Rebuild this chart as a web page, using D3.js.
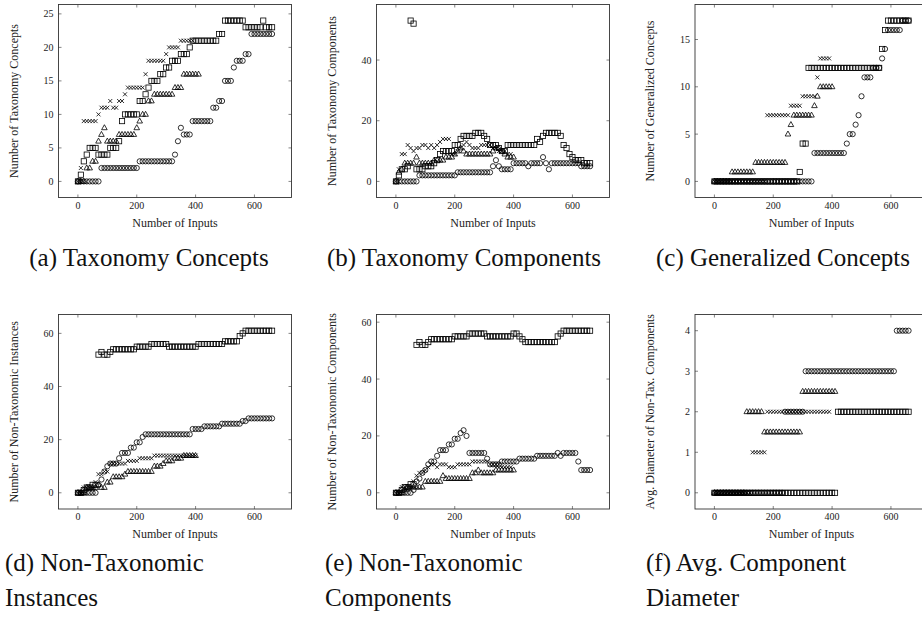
<!DOCTYPE html>
<html>
<head>
<meta charset="utf-8">
<script src="https://cdn.jsdelivr.net/npm/d3@7"></script>
<style>
  body { margin: 0; background: #fff; }
  svg { display: block; }
</style>
</head>
<body>
<div id="chart"></div>
<script>
// x values shared by every series (number of inputs)
const inputs = [0,10,20,30,40,50,60,70,80,90,100,110,120,130,140,150,160,170,180,190,
  200,210,220,230,240,250,260,270,280,290,300,310,320,330,340,350,360,370,380,390,
  400,410,420,430,440,450,460,470,480,490,500,510,520,530,540,550,560,570,580,590,
  600,610,620,630,640,650,660];

// (a) Taxonomy Concepts
const aSquares   = [0,1,3,4,5,5,5,4,4,4, 4,5,5,5,6,9,10,10,10,10, 10,12,12,13,14,15,15,15,16,16, 17,17,18,18,18,19,19,19,20,21, 21,21,21,21,21,21,21,21,22,22, 24,24,24,24,24,24,24,23,23,23, 23,23,23,24,23,23,23];
const aCrosses   = [0,2,9,9,9,9,9,10,11,11, 11,12,11,11,12,12,13,14,14,14, 14,14,14,16,18,18,18,18,18,18, 19,20,20,20,20,21,21,21,21,21];
const aTriangles = [0,0,0,2,2,3,3,6,7,8, 6,6,6,6,7,7,7,7,7,7, 8,9,10,10,12,12,13,13,13,13, 13,13,13,14,14,14,16,16,16,16, 16,16];
const aCircles   = [0,0,0,0,0,0,0,0,2,2, 2,2,2,2,2,2,2,2,2,2, 2,3,3,3,3,3,3,3,3,3, 3,3,3,4,6,8,7,7,7,9, 9,9,9,9,9,9,11,11,12,12, 15,15,15,17,18,18,18,19,19,22, 22,22,22,22,22,22,22];

// (b) Taxonomy Components
const bSquares   = [0,2,4,4,5,53,52,4,4,4, 5,5,5,6,7,9,10,10,10,10, 12,12,14,15,15,15,15,16,16,16, 15,14,12,12,12,11,10,10,12,12, 12,12,12,12,12,12,12,12,14,13, 15,16,16,16,16,16,15,12,11,9, 8,7,7,7,6,6,6];
const bCrosses   = [0,4,9,9,12,11,10,11,11,12, 12,11,12,11,12,13,14,14,14,9, 9,10,11,12,13,12,11,11,11,12, 12,12,12,11,11,10,10,10,9,9];
const bTriangles = [0,3,4,6,6,6,6,8,6,6, 6,6,6,7,7,7,7,8,8,8, 9,10,11,10,9,9,9,9,9,9, 9,9,9,10,11,11,10,9,8,8, 8];
const bCircles   = [0,0,0,0,0,0,0,0,2,2, 2,2,2,2,2,2,2,2,2,2, 2,3,3,3,3,3,3,3,3,3, 3,3,3,5,7,5,4,4,4,4, 6,6,6,6,6,5,6,6,6,6, 8,6,4,6,6,6,6,6,6,6, 6,6,6,5,5,5,5];

// (c) Generalized Concepts
const cSquares   = [0,0,0,0,0,0,0,0,0,0, 0,0,0,0,0,0,0,0,0,0, 0,0,0,0,0,0,0,0,0,1, 4,4,12,12,12,12,12,12,12,12, 12,12,12,12,12,12,12,12,12,12, 12,12,12,12,12,12,12,14,16,17, 17,17,17,17,17,17,17];
const cCrosses   = [0,0,0,0,0,0,0,0,0,0, 0,0,0,0,0,0,0,0,7,7, 7,7,7,7,7,7,8,8,8,8, 9,9,9,9,9,11,13,13,13,13];
const cTriangles = [0,0,0,0,0,0,1,1,1,1, 1,1,1,1,2,2,2,2,2,2, 2,2,2,2,2,5,6,7,7,7, 7,7,7,7,8,9,10,10,10,10, 10];
const cCircles   = [0,0,0,0,0,0,0,0,0,0, 0,0,0,0,0,0,0,0,0,0, 0,0,0,0,0,0,0,0,0,0, 0,0,0,0,3,3,3,3,3,3, 3,3,3,3,3,4,5,5,6,7, 9,11,11,11,12,12,12,13,14,16, 16,16,16,16,17,17,17];

// (d) Non-Taxonomic Instances
const dSquares   = [0,0,1,2,2,3,3,52,53,52, 52,53,54,54,54,54,54,54,54,54, 55,55,55,55,55,56,56,56,56,56, 56,55,55,55,55,55,55,55,55,55, 55,56,56,56,56,56,56,56,56,56, 57,57,57,57,57,59,60,61,61,61, 61,61,61,61,61,61,61];
const dCrosses   = [0,0,2,2,2,2,4,7,7,8, 8,11,11,11,11,11,11,12,12,12, 12,13,13,13,13,13,14,14,14,14, 14,14,14,14,14,14,14,14,14,14, 14];
const dTriangles = [0,0,0,2,2,2,2,3,2,2, 4,4,6,6,6,6,7,8,8,8, 8,8,8,8,8,8,10,10,10,11, 12,12,12,13,13,13,14,14,14,14, 14];
const dCircles   = [0,0,0,0,0,0,0,3,5,8, 10,11,11,11,13,15,15,15,17,17, 19,19,21,22,22,22,22,22,22,22, 22,22,22,22,22,22,22,22,22,24, 24,24,24,25,25,25,25,25,25,26, 26,26,26,26,26,26,27,27,28,28, 28,28,28,28,28,28,28];

// (e) Non-Taxonomic Components
const eSquares   = [0,0,1,2,2,3,3,52,53,52, 52,53,54,54,54,54,54,54,54,54, 55,55,55,55,55,56,56,56,56,56, 56,55,55,55,55,55,55,55,55,55, 56,56,55,54,53,53,53,53,53,53, 53,53,53,53,53,55,56,57,57,57, 57,57,57,57,57,57,57];
const eCrosses   = [0,0,2,2,2,2,4,6,7,7, 8,9,10,10,9,10,10,10,9,9, 9,10,10,10,10,10,11,11,11,11, 11,11,10,10,10,10,9,9,9,9];
const eTriangles = [0,0,0,1,2,2,2,2,2,2, 4,4,4,4,4,4,6,5,5,5, 5,5,5,5,5,5,7,7,8,7, 7,7,7,7,8,8,8,8,8,8, 8];
const eCircles   = [0,0,0,0,0,0,1,4,5,7, 8,10,11,11,13,15,15,15,17,17, 19,19,21,22,20,14,14,14,14,14, 14,12,10,10,10,10,11,11,11,11, 11,11,12,12,12,12,12,12,13,13, 13,13,13,13,13,14,13,14,14,14, 14,14,11,8,8,8,8];

// (f) Avg. Component Diameter
const fSquares   = [0,0,0,0,0,0,0,0,0,0, 0,0,0,0,0,0,0,0,0,0, 0,0,0,0,0,0,0,0,0,0, 0,0,0,0,0,0,0,0,0,0, 0,0,2,2,2,2,2,2,2,2, 2,2,2,2,2,2,2,2,2,2, 2,2,2,2,2,2,2];
const fCrosses   = [0,0,0,0,0,0,0,0,0,0, 0,0,0,1,1,1,1,1,2,2, 2,2,2,2,2,2,2,2,2,2, 2,2,2,2,2,2,2,2,2,2];
const fTriangles = [0,0,0,0,0,0,0,0,0,0, 0,2,2,2,2,2,2,1.5,1.5,1.5, 1.5,1.5,1.5,1.5,1.5,1.5,1.5,1.5,1.5,1.5, 2.5,2.5,2.5,2.5,2.5,2.5,2.5,2.5,2.5,2.5, 2.5,2.5];
const fCircles   = [0,0,0,0,0,0,0,0,0,0, 0,0,0,0,0,0,0,0,0,0, 0,0,0,0,2,2,2,2,2,2, 2,3,3,3,3,3,3,3,3,3, 3,3,3,3,3,3,3,3,3,3, 3,3,3,3,3,3,3,3,3,3, 3,3,4,4,4,4,4];

const xTicks = [0, 200, 400, 600];

const panels = [
  { caption: ["(a) Taxonomy Concepts"], ylabel: "Number of Taxonomy Concepts", yTicks: [0,5,10,15,20,25],
    series: [aSquares, aCrosses, aTriangles, aCircles] },
  { caption: ["(b) Taxonomy Components"], ylabel: "Number of Taxonomy Components", yTicks: [0,20,40],
    series: [bSquares, bCrosses, bTriangles, bCircles] },
  { caption: ["(c) Generalized Concepts"], ylabel: "Number of Generalized Concepts", yTicks: [0,5,10,15],
    series: [cSquares, cCrosses, cTriangles, cCircles] },
  { caption: ["(d) Non-Taxonomic", "Instances"], ylabel: "Number of Non-Taxonomic Instances", yTicks: [0,20,40,60],
    series: [dSquares, dCrosses, dTriangles, dCircles] },
  { caption: ["(e) Non-Taxonomic", "Components"], ylabel: "Number of Non-Taxonomic Components", yTicks: [0,20,40,60],
    series: [eSquares, eCrosses, eTriangles, eCircles] },
  { caption: ["(f) Avg. Component", "Diameter"], ylabel: "Avg. Diameter of Non-Tax. Components", yTicks: [0,1,2,3,4],
    series: [fSquares, fCrosses, fTriangles, fCircles] }
];
const markers = ["square", "cross", "triangle", "circle"];

// layout
const width = 922, height = 618;
const font = "'Liberation Serif', 'Times New Roman', serif";
const colLeft = [58.5, 376.5, 695];
const plotW = 233;
const rowTop = [4.5, 314.5];
const plotH = [193, 194.5];
const captionCenter = [149, 464, 783];
const captionLeft = [5, 325, 646];

const svg = d3.select("#chart").append("svg")
  .attr("width", width).attr("height", height)
  .style("font-family", font);

function drawMarker(g, type, cx, cy) {
  const s = 2.6;
  if (type === "square") {
    g.append("rect").attr("x", cx - s).attr("y", cy - s).attr("width", 2 * s).attr("height", 2 * s);
  } else if (type === "circle") {
    g.append("circle").attr("cx", cx).attr("cy", cy).attr("r", s);
  } else if (type === "triangle") {
    g.append("path").attr("d", `M${cx},${cy - 3.1}L${cx + 2.8},${cy + 1.9}L${cx - 2.8},${cy + 1.9}Z`);
  } else {
    const c = 2;
    g.append("path").attr("d", `M${cx - c},${cy - c}L${cx + c},${cy + c}M${cx - c},${cy + c}L${cx + c},${cy - c}`);
  }
}

panels.forEach((p, idx) => {
  const col = idx % 3, row = Math.floor(idx / 3);
  const x0 = colLeft[col], y0 = rowTop[row], h = plotH[row];

  // pgfplots-style enlarged limits (10% of data range)
  const xr = d3.extent(inputs);
  const xPad = (xr[1] - xr[0]) * 0.1;
  const yr = d3.extent(p.series.flat());
  const yPad = (yr[1] - yr[0]) * 0.1;
  const x = d3.scaleLinear().domain([xr[0] - xPad, xr[1] + xPad]).range([x0, x0 + plotW]);
  const y = d3.scaleLinear().domain([yr[0] - yPad, yr[1] + yPad]).range([y0 + h, y0]);

  const g = svg.append("g");

  // marks
  const mg = g.append("g").attr("fill", "none").attr("stroke", "#000").attr("stroke-width", 0.8);
  p.series.forEach((vals, si) => {
    vals.forEach((v, i) => {
      if (v === null || v === undefined) return;
      drawMarker(mg, markers[si], x(inputs[i]), y(v));
    });
  });

  // ticks inside on all sides
  const tk = 3;
  const tg = g.append("g").attr("stroke", "#333").attr("stroke-width", 0.6);
  xTicks.forEach(t => {
    tg.append("line").attr("x1", x(t)).attr("x2", x(t)).attr("y1", y0 + h).attr("y2", y0 + h - tk);
    tg.append("line").attr("x1", x(t)).attr("x2", x(t)).attr("y1", y0).attr("y2", y0 + tk);
  });
  p.yTicks.forEach(t => {
    tg.append("line").attr("x1", x0).attr("x2", x0 + tk).attr("y1", y(t)).attr("y2", y(t));
    tg.append("line").attr("x1", x0 + plotW).attr("x2", x0 + plotW - tk).attr("y1", y(t)).attr("y2", y(t));
  });

  // frame
  g.append("rect").attr("x", x0).attr("y", y0).attr("width", plotW).attr("height", h)
    .attr("fill", "none").attr("stroke", "#333").attr("stroke-width", 0.9);

  // tick labels
  g.append("g").selectAll("text").data(xTicks).join("text")
    .attr("x", d => x(d)).attr("y", y0 + h + 11)
    .attr("text-anchor", "middle").attr("font-size", 10).attr("fill", "#222")
    .text(d => d);
  g.append("g").selectAll("text").data(p.yTicks).join("text")
    .attr("x", x0 - 5).attr("y", d => y(d)).attr("dy", "0.35em")
    .attr("text-anchor", "end").attr("font-size", 10).attr("fill", "#222")
    .text(d => d);

  // axis titles
  g.append("text").attr("x", x0 + plotW / 2).attr("y", y0 + h + 29)
    .attr("text-anchor", "middle").attr("font-size", 12).attr("fill", "#222")
    .text("Number of Inputs");
  g.append("text")
    .attr("transform", `translate(${x0 - 41},${y0 + h / 2}) rotate(-90)`)
    .attr("text-anchor", "middle").attr("font-size", 12).attr("fill", "#222")
    .text(p.ylabel);

  // caption
  if (p.caption.length === 1) {
    g.append("text").attr("x", captionCenter[col]).attr("y", 266)
      .attr("text-anchor", "middle").attr("font-size", 25).attr("fill", "#111")
      .text(p.caption[0]);
  } else {
    p.caption.forEach((line, li) => {
      g.append("text").attr("x", captionLeft[col]).attr("y", 571 + li * 35)
        .attr("font-size", 25).attr("fill", "#111")
        .text(line);
    });
  }
});
</script>
</body>
</html>
